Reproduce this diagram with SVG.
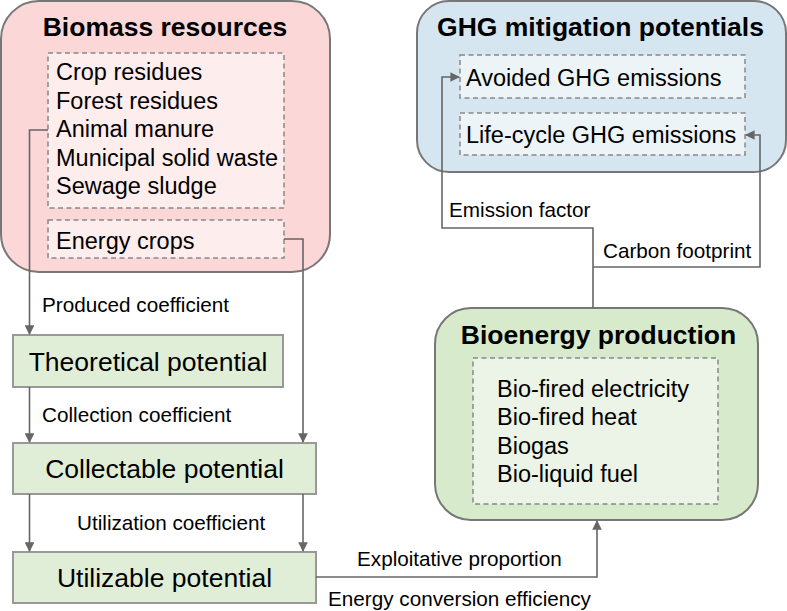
<svg xmlns="http://www.w3.org/2000/svg" width="787" height="611" viewBox="0 0 787 611">
<defs>
<style>
text{font-family:"Liberation Sans",Arial,sans-serif;fill:#000}
.title{font-size:26.5px;font-weight:bold;text-anchor:middle}
.item{font-size:23.5px}
.box{font-size:26.5px;text-anchor:middle}
.lab{font-size:20.7px}
.outer{stroke:#777;stroke-width:2}
.dash{stroke:#888;stroke-width:1.5;stroke-dasharray:5 3.5}
.pot{fill:#e0eed8;stroke:#999;stroke-width:2}
.conn{fill:none;stroke:#666;stroke-width:1.6}
</style>
<marker id="ah" viewBox="0 0 10 10" refX="9" refY="5" markerWidth="6" markerHeight="6" orient="auto" markerUnits="strokeWidth">
<path d="M0,0 L10,5 L0,10 z" fill="#666"/>
</marker>
</defs>
<rect width="787" height="611" fill="#fff"/>

<g id="biomass">
<rect class="outer" x="1" y="1" width="329" height="271" rx="38" fill="#fbd7d7"/>
<text class="title" x="165" y="36">Biomass resources</text>
<rect class="dash" x="48" y="53" width="236" height="155" fill="#fdeded"/>
<text class="item" x="56" y="80">Crop residues</text>
<text class="item" x="56" y="108.5">Forest residues</text>
<text class="item" x="56" y="137">Animal manure</text>
<text class="item" x="56" y="165.5">Municipal solid waste</text>
<text class="item" x="56" y="194">Sewage sludge</text>
<rect class="dash" x="48" y="220" width="236" height="38" fill="#fdeded"/>
<text class="item" x="56" y="249">Energy crops</text>
</g>

<g id="ghg">
<rect class="outer" x="417" y="1" width="369" height="171" rx="32" fill="#d6e6f0"/>
<text class="title" x="600.5" y="36">GHG mitigation potentials</text>
<rect class="dash" x="460" y="55" width="285" height="43" fill="#ecf4f8"/>
<text class="item" x="466" y="86">Avoided GHG emissions</text>
<rect class="dash" x="460" y="113" width="285" height="42" fill="#ecf4f8"/>
<text class="item" x="466" y="143">Life-cycle GHG emissions</text>
</g>

<g id="bioenergy">
<rect class="outer" x="435" y="308" width="323" height="212" rx="36" fill="#d7eacb"/>
<text class="title" x="598.5" y="344">Bioenergy production</text>
<rect class="dash" x="473" y="358" width="245" height="146" fill="#ebf4e6"/>
<text class="item" x="497" y="397">Bio-fired electricity</text>
<text class="item" x="497" y="425">Bio-fired heat</text>
<text class="item" x="497" y="453.5">Biogas</text>
<text class="item" x="497" y="482">Bio-liquid fuel</text>
</g>

<g id="theoretical">
<rect class="pot" x="13" y="335" width="270" height="52"/>
<text class="box" x="148" y="371">Theoretical potential</text>
</g>

<g id="collectable">
<rect class="pot" x="13" y="443" width="303" height="51"/>
<text class="box" x="164.5" y="478">Collectable potential</text>
</g>

<g id="utilizable">
<rect class="pot" x="13" y="552" width="303" height="51"/>
<text class="box" x="164.5" y="587">Utilizable potential</text>
</g>

<g id="connectors">
<path class="conn" d="M48,130 H29.5 V334" marker-end="url(#ah)"/>
<path class="conn" d="M284,239 H303 V442" marker-end="url(#ah)"/>
<path class="conn" d="M29.5,387 V442" marker-end="url(#ah)"/>
<path class="conn" d="M29.5,494 V551" marker-end="url(#ah)"/>
<path class="conn" d="M303,494 V551" marker-end="url(#ah)"/>
<path class="conn" d="M316,577 H597 V521" marker-end="url(#ah)"/>
<path class="conn" d="M593,308 V228 H442 V77 H459" marker-end="url(#ah)"/>
<path class="conn" d="M593,267 H760 V135 H746" marker-end="url(#ah)"/>
<text class="lab" x="42" y="312">Produced coefficient</text>
<text class="lab" x="42" y="422">Collection coefficient</text>
<text class="lab" x="77" y="530">Utilization coefficient</text>
<text class="lab" x="357" y="566">Exploitative proportion</text>
<text class="lab" x="328" y="606">Energy conversion efficiency</text>
<text class="lab" x="449" y="217">Emission factor</text>
<text class="lab" x="603" y="258">Carbon footprint</text>
</g>
</svg>
